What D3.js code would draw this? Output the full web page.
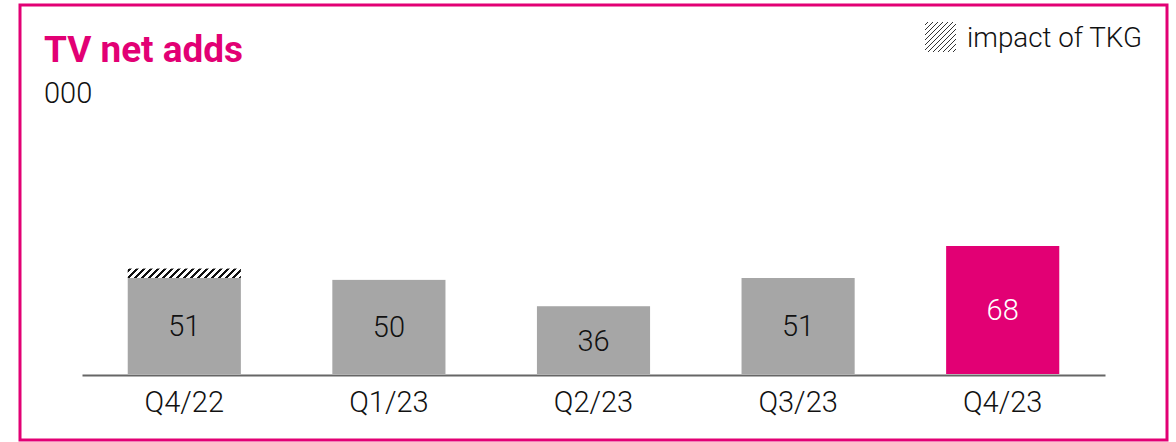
<!DOCTYPE html>
<html>
<head>
<meta charset="utf-8">
<script src="https://cdn.jsdelivr.net/npm/d3@7"></script>
<style>
  html, body { margin: 0; padding: 0; background: #fff; }
  svg { display: block; }
  text { font-family: Roboto, "Open Sans", sans-serif; }
</style>
</head>
<body>
<svg id="chart" width="1176" height="442"></svg>
<script>
// ---- data ----
const categories = ["Q4/22", "Q1/23", "Q2/23", "Q3/23", "Q4/23"];
const netAdds = [51, 50, 36, 51, 68];
const tkgImpact = [5, 0, 0, 0, 0];
const highlight = ["Q4/23"];
const titleText = "TV net adds";
const unitText = "000";
const legendText = "impact of TKG";

const magenta = "#e20074";
const grey = "#a6a6a6";

const svg = d3.select("#chart");

// pattern definitions: diagonal "/" hatching, pixel-stepped
const defs = svg.append("defs");
function hatch(id, w, sw, color) {
  const p = defs.append("pattern")
    .attr("id", id)
    .attr("patternUnits", "userSpaceOnUse")
    .attr("width", w).attr("height", w);
  p.append("path")
    .attr("d", `M${-w / 2},${w / 2} L${w / 2},${-w / 2} M0,${w} L${w},0 M${w / 2},${w * 1.5} L${w * 1.5},${w / 2}`)
    .attr("stroke", color).attr("stroke-width", sw)
    .attr("shape-rendering", "crispEdges");
}
hatch("hatchBar", 7, 2, "#111");
hatch("hatchLegend", 5, 1.4, "#333");

// frame
svg.append("rect")
  .attr("x", 20).attr("y", 5).attr("width", 1147).attr("height", 435)
  .attr("fill", "none").attr("stroke", magenta).attr("stroke-width", 3);

// title
svg.append("text")
  .attr("x", 44).attr("y", 62)
  .attr("fill", magenta).attr("font-weight", 700).attr("font-size", 36)
  .attr("textLength", 199).attr("lengthAdjust", "spacingAndGlyphs")
  .text(titleText);
svg.append("text")
  .attr("x", 44).attr("y", 103)
  .attr("fill", "#111").attr("font-size", 29).attr("font-weight", 300)
  .text(unitText);

// legend
svg.append("rect")
  .attr("x", 925).attr("y", 22).attr("width", 31).attr("height", 30)
  .attr("fill", "url(#hatchLegend)");
svg.append("text")
  .attr("x", 967).attr("y", 47)
  .attr("fill", "#111").attr("font-size", 28).attr("font-weight", 300)
  .attr("textLength", 175).attr("lengthAdjust", "spacingAndGlyphs")
  .text(legendText);

// scales
const x = d3.scaleBand()
  .domain(categories)
  .range([82, 1105])
  .paddingInner(0.447)
  .paddingOuter(0.2235);

const y = d3.scaleLinear()
  .domain([0, 68])
  .range([374, 246]);

const data = categories.map((c, i) => ({ c, v: netAdds[i], t: tkgImpact[i] }));

// hatched TKG impact
svg.append("g").selectAll("rect")
  .data(data.filter(d => d.t > 0))
  .join("rect")
  .attr("x", d => x(d.c))
  .attr("width", x.bandwidth())
  .attr("y", d => y(d.v + d.t))
  .attr("height", d => y(d.v) - y(d.v + d.t))
  .attr("fill", "url(#hatchBar)");

// bars
svg.append("g").selectAll("rect")
  .data(data)
  .join("rect")
  .attr("x", d => x(d.c))
  .attr("width", x.bandwidth())
  .attr("y", d => y(d.v))
  .attr("height", d => y(0) - y(d.v))
  .attr("fill", d => highlight.includes(d.c) ? magenta : grey);

// value labels
svg.append("g").selectAll("text")
  .data(data)
  .join("text")
  .attr("x", d => x(d.c) + x.bandwidth() / 2)
  .attr("y", d => (y(d.v) + y(0)) / 2)
  .attr("dy", "0.36em")
  .attr("text-anchor", "middle")
  .attr("font-size", 29)
  .attr("font-weight", 300)
  .attr("fill", d => highlight.includes(d.c) ? "#fff" : "#111")
  .text(d => d.v);

// x axis
const axis = svg.append("g")
  .attr("transform", `translate(0,${y(0) + 1})`)
  .call(d3.axisBottom(x).tickSize(0).tickPadding(16));
axis.select(".domain").attr("stroke", "#666").attr("stroke-width", 2);
axis.selectAll("text")
  .attr("font-family", "Roboto, sans-serif")
  .attr("font-size", 29)
  .attr("font-weight", 300)
  .attr("fill", "#111");
</script>
</body>
</html>
